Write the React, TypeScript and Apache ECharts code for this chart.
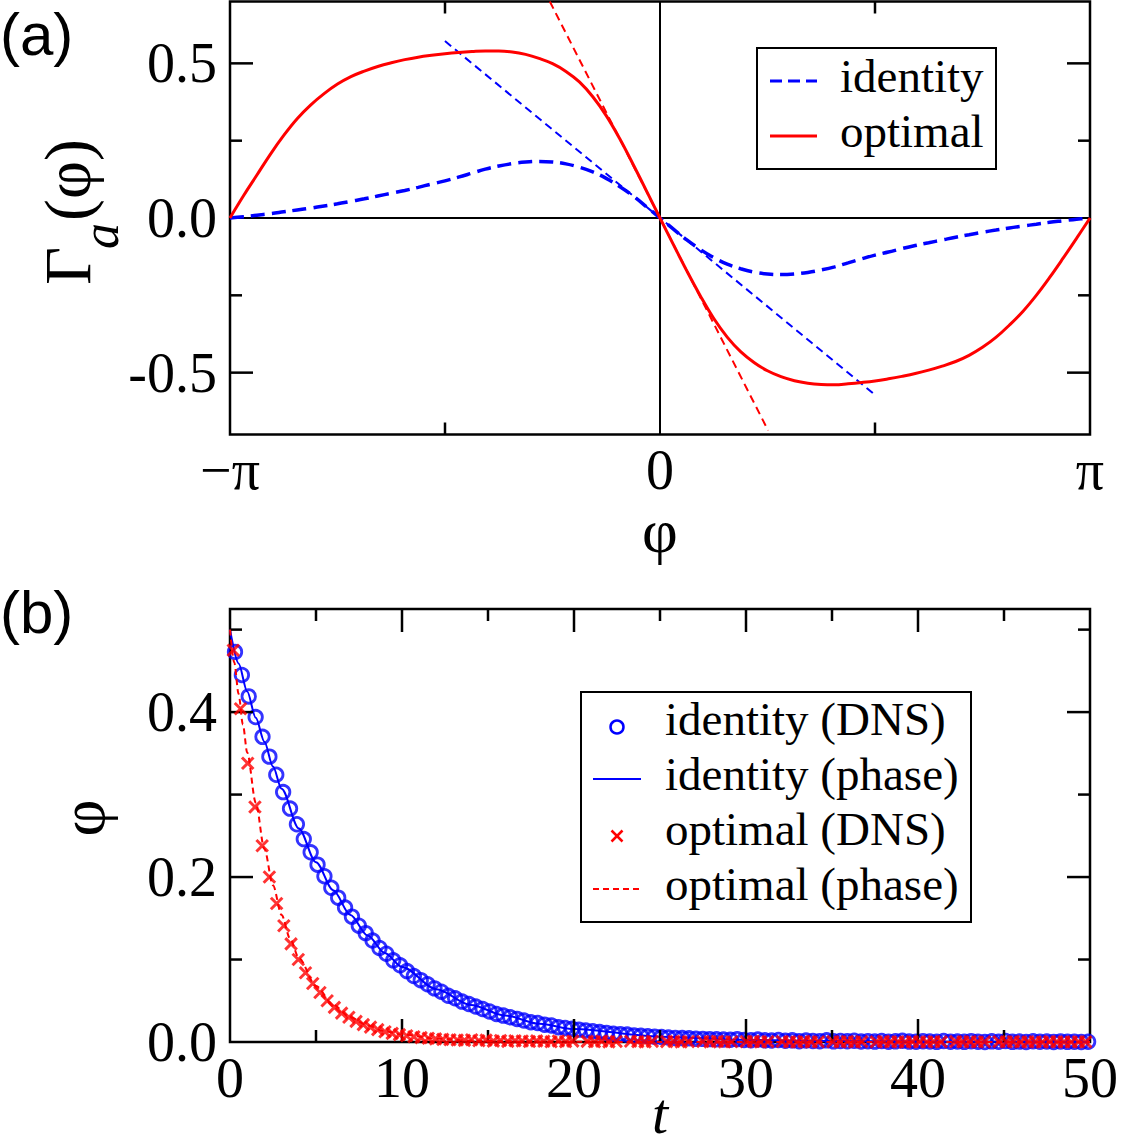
import React, { useEffect, useRef } from 'react';
import * as echarts from 'echarts';

const PI = Math.PI;
const SERIF = '"Liberation Serif", "Times New Roman", serif';
const SANS = '"Liberation Sans", Arial, sans-serif';
const BLUE = '#0000ff';
const RED = '#ff0000';

// ---- Panel (a): coupling functions Γ_a(φ) on a phase grid (radians, step π/32) ----
const phi = [
  -3.142, -3.043, -2.945, -2.847, -2.749, -2.651, -2.553, -2.454, -2.356, -2.258, -2.16,
  -2.062, -1.963, -1.865, -1.767, -1.669, -1.571, -1.473, -1.374, -1.276, -1.178, -1.08,
  -0.982, -0.884, -0.785, -0.687, -0.589, -0.491, -0.393, -0.295, -0.196, -0.098, 0,
  0.098, 0.196, 0.295, 0.393, 0.491, 0.589, 0.687, 0.785, 0.884, 0.982, 1.08,
  1.178, 1.276, 1.374, 1.473, 1.571, 1.669, 1.767, 1.865, 1.963, 2.062, 2.16,
  2.258, 2.356, 2.454, 2.553, 2.651, 2.749, 2.847, 2.945, 3.043, 3.142,
];
const gammaIdentity = [
  0, 0.004, 0.009, 0.014, 0.02, 0.026, 0.032, 0.039, 0.046, 0.054, 0.062,
  0.071, 0.08, 0.089, 0.099, 0.11, 0.12, 0.132, 0.145, 0.158, 0.168, 0.176,
  0.181, 0.183, 0.181, 0.175, 0.164, 0.149, 0.128, 0.102, 0.071, 0.036, 0,
  -0.036, -0.071, -0.102, -0.128, -0.149, -0.164, -0.175, -0.181, -0.183, -0.181, -0.176,
  -0.168, -0.158, -0.145, -0.132, -0.12, -0.11, -0.099, -0.089, -0.08, -0.071, -0.062,
  -0.054, -0.046, -0.039, -0.032, -0.026, -0.02, -0.014, -0.009, -0.004, 0,
];
const gammaOptimal = [
  0, 0.072, 0.139, 0.206, 0.267, 0.321, 0.365, 0.402, 0.433, 0.457, 0.475,
  0.49, 0.502, 0.512, 0.52, 0.526, 0.531, 0.535, 0.538, 0.54, 0.54, 0.537,
  0.529, 0.516, 0.499, 0.474, 0.44, 0.392, 0.331, 0.257, 0.173, 0.087, 0,
  -0.086, -0.171, -0.252, -0.325, -0.385, -0.432, -0.467, -0.494, -0.513, -0.526, -0.534,
  -0.538, -0.539, -0.536, -0.532, -0.527, -0.52, -0.512, -0.503, -0.492, -0.479, -0.464,
  -0.444, -0.418, -0.386, -0.346, -0.302, -0.25, -0.192, -0.13, -0.066, 0,
];
// slopes at φ = 0
const identityTangentPhi = [-1.571, 1.571];
const identityTangentValue = [0.572, -0.572];
const optimalTangentPhi = [-0.805, 0.79];
const optimalTangentValue = [0.7, -0.687];

// ---- Panel (b): relaxation of the phase difference ----
const identityDnsStart = 0.29;
const identityDnsStep = 0.4;
const identityDns = [
  0.473, 0.445, 0.419, 0.394, 0.37, 0.346, 0.324, 0.303, 0.283, 0.264,
  0.246, 0.23, 0.215, 0.201, 0.187, 0.175, 0.163, 0.152, 0.141, 0.132,
  0.123, 0.114, 0.107, 0.099, 0.093, 0.086, 0.08, 0.075, 0.07, 0.065,
  0.061, 0.056, 0.053, 0.049, 0.046, 0.043, 0.04, 0.037, 0.034, 0.032,
  0.03, 0.028, 0.026, 0.024, 0.023, 0.021, 0.02, 0.018, 0.017, 0.016,
  0.015, 0.014, 0.013, 0.012, 0.011, 0.01, 0.0095, 0.009, 0.008, 0.0075,
  0.007, 0.0065, 0.006, 0.0055, 0.005, 0.0048, 0.0045, 0.004, 0.0038, 0.0035,
  0.0033, 0.003, 0.0028, 0.0035, 0.0025, 0.0022, 0.003, 0.002, 0.0018, 0.0025,
  0.0015, 0.002, 0.001, 0.0018, 0.0012, 0.001, 0.002, 0.0008, 0.0012, 0.001,
  0.0015, 0.0006, 0.001, 0.0005, 0.0012, 0.0004, 0.0008, 0.0015, 0.0005, 0.0003,
  0.001, 0.0006, 0.0002, 0.0012, 0.0004, 0.0006, 0.0002, 0.001, 0.0004, 0,
  0.0008, 0.0003, 0.0012, 0.0002, 0.0005, 0, 0.0009, 0.0003, 0.0006, 0.0001,
  0.0007, 0.0002, 0.0004, 0, 0.0003,
];
const optimalDnsStart = 0.19;
const optimalDnsStep = 0.42;
const optimalDns = [
  0.475, 0.404, 0.338, 0.285, 0.238, 0.2, 0.168, 0.141, 0.119, 0.1,
  0.084, 0.071, 0.06, 0.05, 0.042, 0.035, 0.03, 0.025, 0.021, 0.018,
  0.015, 0.0125, 0.0105, 0.009, 0.0075, 0.0063, 0.0053, 0.0045, 0.0038, 0.0032,
  0.0027,
  0.0024, 0.002, 0.0028, 0.0015, 0.0022, 0.001, 0.0018, 0.0008, 0.0015, 0.0012,
  0.0006, 0.0014, 0.0009, 0.0003, 0.0012, 0.0005, 0.001, -0.0004, 0.0008, 0.0003,
  0.0011, 0.0002, 0.0006, -0.0003, 0.0009, 0.0004, 0.0001, 0.0007, -0.0002, 0.0005,
  0.0008, 0.0001, 0.0004, -0.0005, 0.0006, 0.0002, 0.0009, 0, 0.0003, -0.0002,
  0.0005, 0.0007, 0.0001, 0.0004, -0.0003, 0.0006, 0.0002, 0, 0.0008, 0.0001,
  0.0003, -0.0002, 0.0005, 0.0001, 0.0006, 0, 0.0004, -0.0004, 0.0002, 0.0007,
  0.0001, 0.0003, -0.0001, 0.0005, 0.0002, 0, 0.0006, 0.0001, -0.0003, 0.0004,
  0.0002, 0.0005, 0, 0.0003, -0.0002, 0.0004, 0.0001, 0.0006, 0, 0.0002,
  0.0003, -0.0001, 0.0004, 0.0001, 0.0002, 0, 0.0003, 0.0001,
];
const identityPhaseT = [0, 0.5, 1, 1.5, 2, 2.5, 3, 4, 5, 6, 7, 8, 9, 10, 12, 14, 16, 18, 20, 25, 30, 35, 40, 45, 50];
const identityPhaseV = [
  0.5, 0.459, 0.425, 0.393, 0.364, 0.334, 0.307, 0.259, 0.218, 0.184, 0.154, 0.129, 0.108,
  0.091, 0.064, 0.045, 0.032, 0.022, 0.0157, 0.0065, 0.0027, 0.0011, 0.0005, 0.0002, 0.0001,
];
const optimalPhaseT = [0, 0.25, 0.5, 0.75, 1, 1.5, 2, 2.5, 3, 3.5, 4, 5, 6, 7, 8, 9, 10, 12, 14, 16, 20, 25, 30, 40, 50];
const optimalPhaseV = [
  0.5, 0.46, 0.422, 0.385, 0.351, 0.29, 0.234, 0.19, 0.154, 0.125, 0.102, 0.068, 0.045,
  0.03, 0.02, 0.013, 0.009, 0.004, 0.0017, 0.0008, 0.0002, 0, 0, 0, 0,
];

// ---- tick positions (drawn inside the frame on all four sides) ----
const aYMajorTicks = [-0.5, 0.5];
const aYMinorTicks = [-0.25, 0.25];
const aXMinorTicks = [-PI / 2, PI / 2];
const bXMajorTicks = [10, 20, 30, 40];
const bXMinorTicks = [5, 15, 25, 35, 45];
const bYMajorTicks = [0.2, 0.4];
const bYMinorTicks = [0.1, 0.3, 0.5];

const MAJOR = 23;
const MINOR = 12;

function tickSeries(index: number, dir: 'x' | 'y', values: number[], len: number) {
  return {
    type: 'custom',
    xAxisIndex: index,
    yAxisIndex: index,
    silent: true,
    z: 4,
    clip: false,
    data: values.map((v) => (dir === 'x' ? [v, 0] : [0, v])),
    renderItem: (params: any, api: any) => {
      const cs = params.coordSys;
      const p = api.coord([api.value(0), api.value(1)]);
      const st = { stroke: '#000', lineWidth: 2.5 };
      if (dir === 'y') {
        return {
          type: 'group',
          children: [
            { type: 'line', shape: { x1: cs.x, y1: p[1], x2: cs.x + len, y2: p[1] }, style: st },
            { type: 'line', shape: { x1: cs.x + cs.width, y1: p[1], x2: cs.x + cs.width - len, y2: p[1] }, style: st },
          ],
        };
      }
      return {
        type: 'group',
        children: [
          { type: 'line', shape: { x1: p[0], y1: cs.y + cs.height, x2: p[0], y2: cs.y + cs.height - len }, style: st },
          { type: 'line', shape: { x1: p[0], y1: cs.y, x2: p[0], y2: cs.y + len }, style: st },
        ],
      };
    },
  };
}

const pairs = (xs: number[], ys: number[]) => xs.map((x, i) => [x, ys[i]]);

const labelStyle = { fontFamily: SERIF, fontSize: 56, color: '#000' };

function txt(text: string, x: number, y: number, font: string, align = 'left', rotation = 0) {
  return {
    type: 'text',
    x,
    y,
    rotation,
    z: 100,
    style: {
      text,
      font,
      fill: '#000',
      align,
      verticalAlign: 'middle',
      textAlign: align,
      textVerticalAlign: 'middle',
    },
  };
}

function seg(x1: number, y1: number, x2: number, y2: number, stroke: string, lineWidth: number, lineDash?: number[]) {
  return {
    type: 'line',
    z: 100,
    shape: { x1, y1, x2, y2 },
    style: { stroke, lineWidth, lineDash: lineDash || null },
  };
}

export default function App() {
  const ref = useRef<HTMLDivElement>(null);

  useEffect(() => {
    document.body.style.margin = '0';
    if (!ref.current) return;
    const chart = echarts.init(ref.current, null, { renderer: 'svg' });

    const axisCommon = {
      type: 'value',
      axisLine: { show: false },
      axisTick: { show: false },
      splitLine: { show: false },
      minorTick: { show: false },
    };

    const legendFont = `47px ${SERIF}`;

    chart.setOption({
      animation: false,
      backgroundColor: '#fff',
      grid: [
        { left: 230, top: 1.5, width: 860, height: 433, show: true, borderColor: '#000', borderWidth: 2.5, backgroundColor: 'transparent', containLabel: false, outerBoundsMode: 'none' },
        { left: 230, top: 609, width: 860, height: 433, show: true, borderColor: '#000', borderWidth: 2.5, backgroundColor: 'transparent', containLabel: false, outerBoundsMode: 'none' },
      ],
      xAxis: [
        {
          ...axisCommon,
          gridIndex: 0,
          min: -PI,
          max: PI,
          interval: PI,
          axisLabel: {
            ...labelStyle,
            lineHeight: 40,
            margin: 15,
            formatter: (v: number) => {
              const k = Math.round(v / PI);
              return k < 0 ? '−π' : k > 0 ? 'π' : '0';
            },
          },
        },
        {
          ...axisCommon,
          gridIndex: 1,
          min: 0,
          max: 50,
          interval: 10,
          axisLabel: { ...labelStyle, lineHeight: 40, margin: 16, formatter: (v: number) => String(Math.round(v)) },
        },
      ],
      yAxis: [
        {
          ...axisCommon,
          gridIndex: 0,
          min: -0.7,
          max: 0.7,
          interval: 0.1,
          axisLabel: {
            ...labelStyle,
            margin: 13,
            formatter: (v: number) => {
              const r = Math.round(v * 2) / 2;
              return Math.abs(v - r) < 1e-6 && Math.abs(r) <= 0.5 ? (r === 0 ? '0.0' : r.toFixed(1)) : '';
            },
          },
        },
        {
          ...axisCommon,
          gridIndex: 1,
          min: 0,
          max: 0.525,
          interval: 0.1,
          axisLabel: {
            ...labelStyle,
            margin: 13,
            formatter: (v: number) => {
              const r = Math.round(v * 5) / 5;
              return Math.abs(v - r) < 1e-6 && r <= 0.4 ? r.toFixed(1) : '';
            },
          },
        },
      ],
      series: [
        // panel (a) zero lines
        {
          type: 'line', xAxisIndex: 0, yAxisIndex: 0, silent: true, symbol: 'none', z: 1,
          data: [[-PI, 0], [PI, 0]], lineStyle: { color: '#000', width: 2 },
        },
        {
          type: 'line', xAxisIndex: 0, yAxisIndex: 0, silent: true, symbol: 'none', z: 1,
          data: [[0, -0.7], [0, 0.7]], lineStyle: { color: '#000', width: 2 },
        },
        // panel (a) slopes at the origin
        {
          type: 'line', xAxisIndex: 0, yAxisIndex: 0, silent: true, symbol: 'none', z: 2,
          data: pairs(identityTangentPhi, identityTangentValue),
          lineStyle: { color: BLUE, width: 2, type: [8, 5] },
        },
        {
          type: 'line', xAxisIndex: 0, yAxisIndex: 0, silent: true, symbol: 'none', z: 2,
          data: pairs(optimalTangentPhi, optimalTangentValue),
          lineStyle: { color: RED, width: 2, type: [8, 5] },
        },
        // panel (a) coupling functions
        {
          name: 'identity', type: 'line', xAxisIndex: 0, yAxisIndex: 0, symbol: 'none', z: 3,
          smooth: 0.4, data: pairs(phi, gammaIdentity),
          lineStyle: { color: BLUE, width: 3.5, type: [14, 7] },
        },
        {
          name: 'optimal', type: 'line', xAxisIndex: 0, yAxisIndex: 0, symbol: 'none', z: 3,
          smooth: 0.4, data: pairs(phi, gammaOptimal),
          lineStyle: { color: RED, width: 3 },
        },
        // panel (b)
        {
          name: 'identity (DNS)', type: 'scatter', xAxisIndex: 1, yAxisIndex: 1, z: 2,
          symbol: 'circle', symbolSize: 13.5,
          data: identityDns.map((v, i) => [identityDnsStart + i * identityDnsStep, v]),
          itemStyle: { color: 'rgba(0,0,0,0)', borderColor: BLUE, borderWidth: 2.8 },
        },
        {
          name: 'identity (phase)', type: 'line', xAxisIndex: 1, yAxisIndex: 1, symbol: 'none', z: 3,
          smooth: 0.3, smoothMonotone: 'x', data: pairs(identityPhaseT, identityPhaseV),
          lineStyle: { color: BLUE, width: 2 },
        },
        {
          name: 'optimal (DNS)', type: 'scatter', xAxisIndex: 1, yAxisIndex: 1, z: 4,
          symbol: 'path://M0,0L10,10M10,0L0,10', symbolSize: 11.5,
          data: optimalDns.map((v, i) => [optimalDnsStart + i * optimalDnsStep, v]),
          itemStyle: { color: 'rgba(0,0,0,0)', borderColor: RED, borderWidth: 3 },
        },
        {
          name: 'optimal (phase)', type: 'line', xAxisIndex: 1, yAxisIndex: 1, symbol: 'none', z: 5,
          smooth: 0.3, smoothMonotone: 'x', data: pairs(optimalPhaseT, optimalPhaseV),
          lineStyle: { color: RED, width: 2, type: [6, 4] },
        },
        // ticks
        tickSeries(0, 'y', aYMajorTicks, MAJOR),
        tickSeries(0, 'y', aYMinorTicks, MINOR),
        tickSeries(0, 'x', aXMinorTicks, MINOR),
        tickSeries(1, 'x', bXMajorTicks, MAJOR),
        tickSeries(1, 'x', bXMinorTicks, MINOR),
        tickSeries(1, 'y', bYMajorTicks, MAJOR),
        tickSeries(1, 'y', bYMinorTicks, MINOR),
      ],
      graphic: {
        elements: [
          // panel labels
          txt('(a)', 0, 34, `60px ${SANS}`),
          txt('(b)', 0, 612, `60px ${SANS}`),
          // axis titles
          txt('φ', 660, 531, `62px ${SERIF}`, 'center'),
          txt('t', 660, 1113, `italic 58px ${SERIF}`, 'center'),
          txt('φ', 82, 818, `64px ${SERIF}`, 'center', PI / 2),
          txt('Γ', 67, 285, `66px ${SERIF}`, 'left', PI / 2),
          txt('a', 100, 249, `italic 52px ${SERIF}`, 'left', PI / 2),
          txt('(φ)', 67, 221, `66px ${SERIF}`, 'left', PI / 2),
          // legend (a)
          {
            type: 'rect', z: 99,
            shape: { x: 757, y: 48, width: 239, height: 121 },
            style: { fill: '#fff', stroke: '#000', lineWidth: 2 },
          },
          seg(770, 81, 817, 81, BLUE, 3, [12, 6]),
          seg(770, 136, 817, 136, RED, 3),
          txt('identity', 840, 76, legendFont),
          txt('optimal', 840, 131, legendFont),
          // legend (b)
          {
            type: 'rect', z: 99,
            shape: { x: 581, y: 692, width: 390, height: 230 },
            style: { fill: '#fff', stroke: '#000', lineWidth: 2 },
          },
          {
            type: 'circle', z: 100,
            shape: { cx: 617, cy: 727, r: 6.5 },
            style: { fill: 'none', stroke: BLUE, lineWidth: 2.5 },
          },
          seg(593, 779, 641, 779, BLUE, 2),
          seg(611.5, 830.5, 622.5, 841.5, RED, 2.5),
          seg(622.5, 830.5, 611.5, 841.5, RED, 2.5),
          seg(593, 889, 641, 889, RED, 2, [6, 4]),
          txt('identity (DNS)', 665, 719, legendFont),
          txt('identity (phase)', 665, 774, legendFont),
          txt('optimal (DNS)', 665, 829, legendFont),
          txt('optimal (phase)', 665, 884, legendFont),
        ],
      },
    });

    return () => {
      chart.dispose();
    };
  }, []);

  return <div ref={ref} style={{ width: 1121, height: 1146 }} />;
}
